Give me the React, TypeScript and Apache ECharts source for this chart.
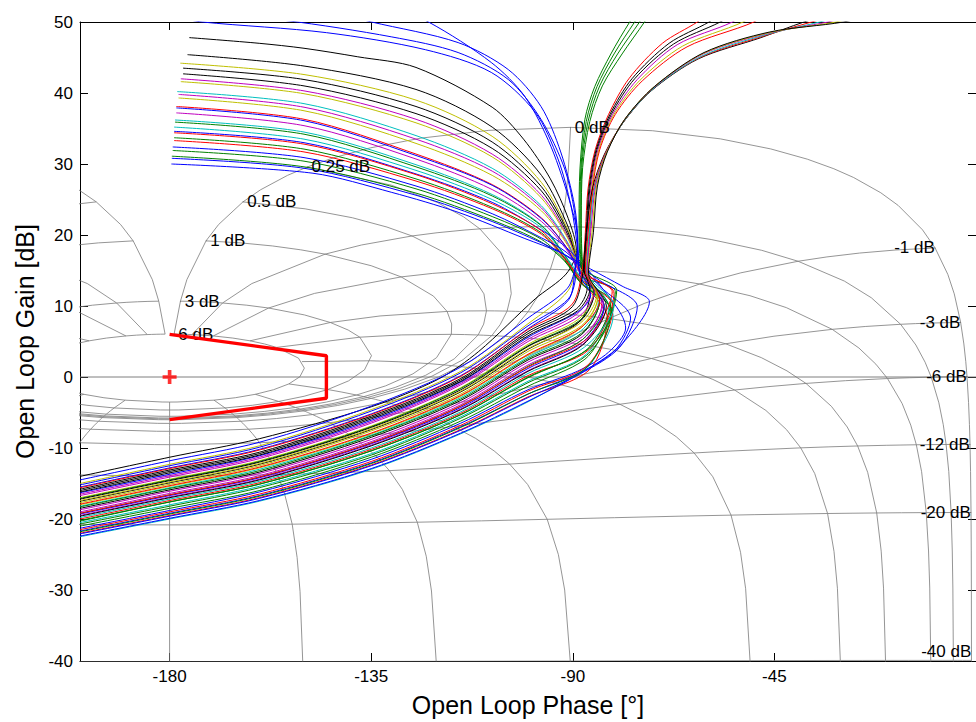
import React, { useEffect, useRef } from "react";
import * as echarts from "echarts";

// ---------- axis ticks ----------
const phaseTicks = [-180, -135, -90, -45];

// ---------- Nichols grid levels ----------
const isoGainDb = [6, 3, 1, 0.5, 0.25, 0, -1, -3, -6, -12, -20, -40];
const isoPhaseDeg = [-1, -5, -10, -20, -30, -50, -90, -120, -150, -180];
const closedPhaseSamples = [1, 2, 3, 4, 5, 7.5, 10, 15, 20, 25, 30, 45, 60, 75, 90, 105, 120, 135, 150, 175, 180];
const closedGainSamples = [6, 3, 2, 1, 0.75, 0.5, 0.4, 0.3, 0.25, 0.2, 0.15, 0.1, 0.05, 0, -0.05, -0.1, -0.15, -0.2, -0.25, -0.3, -0.4, -0.5, -0.75, -1, -1.5, -2, -3, -4, -5, -6, -8, -10, -12, -15, -20, -25, -30, -40, -50, -60, -80];
const unityGainLine = [[-200, 0], [0, 0]];

// ---------- stability boundary & critical point ----------
const boundaryPolygon = [[-180, 6], [-145, 3], [-145, -3], [-180, -6]];
const criticalPoint = [[-180, 0]];

// ---------- response colours ----------
const palette: Record<string, string> = {
  b: "#0000ff", g: "#008000", r: "#ff0000", c: "#00bfbf", m: "#bf00bf", y: "#bfbf00", k: "#000000",
};
const leftFamilyColors = ["k","k","y","k","k","m","y","c","m","y","r","b","m","c","g","c","b","r","g","r","b","g","g","b","b","b","b","b","b"];
const rightFamilyColors = ["g","g","g","g","r","k","k","m","y","r","k","r","c","m","y","k"];

// ---------- open-loop responses [phase deg, gain dB] ----------
const leftFamily: number[][][] = [
  [[-175.6,47.8],[-160,47.0],[-150,46.3],[-138,45.1],[-125,43.6],[-108,38.0],[-101,33.5],[-95,27.9],[-91,22.3],[-89.2,17.8],[-91.5,14.5],[-98.4,11.0],[-111,3.6],[-120,-0.3],[-135,-4.2],[-160,-8.7],[-180,-11.3],[-200,-14.0]],
  [[-176,45.4],[-150,43.8],[-125,40.5],[-108,35.2],[-97,28.4],[-91,21.1],[-89,16.8],[-86,12.5],[-88.5,7.8],[-100,3.9],[-115,-2.1],[-135,-7.4],[-160,-12.3],[-180,-14.9],[-200,-17.5]],
  [[-177.6,44.2],[-150,42.6],[-125,39.0],[-108,33.9],[-97,27.4],[-91,20.6],[-89.3,16.8],[-91,12.2],[-100,7.5],[-115,0.8],[-135,-4.6],[-160,-9.7],[-180,-12.3],[-200,-15.0]],
  [[-177,43.5],[-150,41.9],[-125,38.1],[-108,33.1],[-97,26.8],[-91,20.3],[-88.9,16.2],[-84,10.8],[-88,6.0],[-100,2.4],[-115,-3.3],[-135,-8.5],[-160,-13.4],[-180,-15.9],[-200,-18.5]],
  [[-177,42.7],[-150,41.0],[-125,37.1],[-108,32.2],[-97,26.2],[-91,19.9],[-89,16.0],[-86.8,12.5],[-89.2,9.6],[-100,6.1],[-115,-0.4],[-135,-5.7],[-160,-10.8],[-180,-13.3],[-200,-16.0]],
  [[-177.5,42.0],[-150,40.3],[-125,36.3],[-108,31.4],[-97,25.6],[-91,19.6],[-88.8,15.8],[-86,12.2],[-89,8.9],[-100,5.3],[-115,-0.9],[-135,-6.3],[-160,-11.3],[-180,-13.9],[-200,-16.5]],
  [[-177.5,41.6],[-150,39.9],[-125,35.8],[-108,31.0],[-97,25.2],[-91,19.4],[-88.6,15.5],[-84.5,11.0],[-88.4,6.8],[-100,3.1],[-115,-2.7],[-135,-8.0],[-160,-12.8],[-180,-15.4],[-200,-18.0]],
  [[-178.3,40.2],[-150,38.5],[-125,34.0],[-108,29.4],[-97,24.1],[-91,18.8],[-88.5,15.2],[-82,9.8],[-87,3.2],[-100,-0.6],[-115,-5.6],[-135,-10.8],[-160,-15.4],[-180,-18.0],[-200,-20.5]],
  [[-178,39.8],[-150,38.0],[-125,33.5],[-108,29.0],[-97,23.8],[-91,18.6],[-88.6,15.1],[-83.5,10.3],[-87.8,5.3],[-100,1.7],[-115,-3.9],[-135,-9.1],[-160,-13.9],[-180,-16.4],[-200,-19.0]],
  [[-178,39.3],[-150,37.5],[-125,32.9],[-108,28.4],[-97,23.4],[-91,18.4],[-88.7,15.0],[-85.5,11.8],[-88.6,8.2],[-100,4.6],[-115,-1.5],[-135,-6.9],[-160,-11.8],[-180,-14.4],[-200,-17.0]],
  [[-178.5,38.1],[-150,36.3],[-125,31.4],[-108,27.1],[-97,22.4],[-91,17.9],[-88.3,14.8],[-80.8,11.8],[-86.3,3.9],[-100,0.2],[-115,-5.1],[-135,-10.2],[-160,-14.9],[-180,-17.4],[-200,-20.0]],
  [[-178.5,37.9],[-150,36.1],[-125,31.2],[-108,27.0],[-97,22.3],[-91,17.8],[-89.3,14.9],[-91,11.0],[-100,7.2],[-115,0.6],[-135,-4.8],[-160,-9.9],[-180,-12.5],[-200,-15.2]],
  [[-178.5,37.2],[-150,35.4],[-125,30.7],[-108,26.4],[-97,21.9],[-91,17.6],[-88.4,14.7],[-83,9.8],[-87.8,4.6],[-100,0.9],[-115,-4.5],[-135,-9.6],[-160,-14.4],[-180,-16.9],[-200,-19.5]],
  [[-178.8,36.2],[-150,34.5],[-125,29.9],[-108,25.7],[-97,21.4],[-91.8,17.2],[-88.6,14.4],[-81,8.6],[-85.8,2.0],[-90,0.1],[-100,-3.5],[-115,-8.0],[-135,-13.0],[-160,-17.5],[-180,-20.0],[-200,-22.5]],
  [[-178.8,35.9],[-150,34.2],[-125,29.6],[-108,25.5],[-97,21.3],[-91.8,17.1],[-88.6,14.3],[-80.5,12.0],[-82.3,7.5],[-87.3,2.5],[-100,-1.3],[-115,-6.2],[-135,-11.3],[-160,-16.0],[-180,-18.5],[-200,-21.0]],
  [[-179,35.2],[-150,33.5],[-125,29.1],[-108,25.0],[-97,21.0],[-91.8,17.0],[-88.9,14.2],[-84.3,10.5],[-88.2,6.5],[-100,2.8],[-115,-2.9],[-135,-8.2],[-160,-13.0],[-180,-15.6],[-200,-18.2]],
  [[-179,34.6],[-150,33.0],[-125,28.6],[-108,24.6],[-97,20.7],[-91,18.0],[-84,13.0],[-78.2,6.9],[-82,3.5],[-89,0.8],[-100,-1.8],[-115,-6.5],[-135,-11.6],[-160,-16.2],[-180,-18.8],[-200,-21.3]],
  [[-179,34.4],[-150,32.8],[-125,28.5],[-108,24.4],[-97,20.6],[-91.8,16.8],[-88.5,14.0],[-81,9.9],[-86.6,1.7],[-100,-2.0],[-115,-6.8],[-135,-11.9],[-160,-16.5],[-180,-19.0],[-200,-21.5]],
  [[-179,33.7],[-150,32.1],[-125,27.9],[-108,23.9],[-97,20.3],[-91.8,16.7],[-88.8,13.8],[-81.5,10.6],[-86.8,3.9],[-100,0.0],[-115,-5.3],[-135,-10.4],[-160,-15.1],[-180,-17.6],[-200,-20.2]],
  [[-179,33.3],[-150,31.7],[-125,27.6],[-108,23.7],[-97,20.1],[-91.8,16.6],[-88.5,13.7],[-82.3,8.3],[-86.3,1.0],[-100,-2.8],[-115,-7.4],[-135,-12.4],[-160,-17.0],[-180,-19.5],[-200,-22.0]],
  [[-179.3,32.4],[-150,30.9],[-125,26.9],[-108,23.0],[-97,19.6],[-91.5,17.6],[-84,12.8],[-77.1,8.3],[-80.5,3.8],[-88.5,0.6],[-100,-2.4],[-115,-7.0],[-135,-12.1],[-160,-16.7],[-180,-19.2],[-200,-21.7]],
  [[-179.3,31.9],[-150,30.4],[-125,26.5],[-108,22.6],[-97,19.4],[-91.8,16.4],[-88.4,13.4],[-83,10.1],[-87.8,5.3],[-100,1.5],[-115,-4.1],[-135,-9.3],[-160,-14.1],[-180,-16.6],[-200,-19.2]],
  [[-179.5,31.1],[-150,29.6],[-125,25.9],[-108,22.1],[-97,19.0],[-91.8,16.3],[-88.2,13.2],[-81.3,9.3],[-87,3.0],[-100,-0.8],[-115,-5.8],[-135,-11.0],[-160,-15.6],[-180,-18.2],[-200,-20.7]],
  [[-179.5,30.8],[-150,29.4],[-125,25.6],[-108,21.9],[-97,18.9],[-92,17.3],[-84,13.6],[-75.6,9.9],[-79.5,4.2],[-88.5,0.4],[-100,-2.9],[-115,-7.5],[-135,-12.5],[-160,-17.1],[-180,-19.6],[-200,-22.1]],
  [[-179.6,30.0],[-148,28.7],[-130.4,26.0],[-115.6,23.2],[-100.7,19.5],[-93,17.6],[-86,15.2],[-79,12.8],[-72.9,10.6],[-79.3,4.5],[-88.9,0.3],[-100,-3.4],[-115,-7.9],[-135,-12.9],[-160,-17.4],[-180,-19.9],[-200,-22.4]],
  [[-178,56.0],[-150,54.5],[-130,51.8],[-122.2,50.0],[-108.2,44.3],[-100.7,39.5],[-94.9,32.5],[-90.4,24.1],[-88.9,19.5],[-89.3,16.0],[-91.2,12.5],[-100,8.3],[-115,1.4],[-135,-4.1],[-160,-9.2],[-180,-11.8],[-200,-14.5]],
  [[-178,53.5],[-150,52.3],[-134.9,50.0],[-115.6,47.1],[-104.4,43.3],[-97.1,38.1],[-92.7,31.7],[-89.6,24.1],[-88.9,18.5],[-89.5,15.0],[-91,10.8],[-100,6.8],[-115,0.2],[-135,-5.2],[-160,-10.2],[-180,-12.8],[-200,-15.5]],
  [[-178,51.5],[-154,50.2],[-130.4,47.9],[-115.6,45.7],[-104.4,41.9],[-97.1,36.3],[-91.8,29.3],[-89.6,23.2],[-88.8,18.0],[-88.5,14.5],[-86,11.5],[-88.8,9.2],[-100,5.6],[-115,-0.7],[-135,-6.1],[-160,-11.1],[-180,-13.7],[-200,-16.3]],
  [[-178,50.6],[-172.7,50.0],[-145,48.5],[-122.9,46.1],[-108.2,42.9],[-98.4,37.3],[-93.3,30.7],[-90.4,24.1],[-89,18.5],[-88.4,14.8],[-83,9.9],[-87.8,4.9],[-100,1.2],[-115,-4.3],[-135,-9.4],[-160,-14.2],[-180,-16.7],[-200,-19.3]],
];

const rightFamily: number[][][] = [
  [[-74,53],[-77.3,50],[-81.5,45.5],[-85.1,40.9],[-87.3,36.3],[-88.4,29.3],[-88.6,22],[-88.3,16],[-85.3,11.8],[-88.4,8.0],[-100,4.4],[-115,-1.6],[-135,-7.0],[-160,-11.9],[-180,-14.5],[-200,-17.1]],
  [[-73,53],[-76.2,50],[-80.8,45.5],[-84.6,40.9],[-87,36],[-88.2,29.3],[-88.4,22],[-88.1,15.8],[-84,10.7],[-88,6.2],[-100,2.6],[-115,-3.1],[-135,-8.3],[-160,-13.2],[-180,-15.7],[-200,-18.3]],
  [[-72,53],[-75.1,50],[-80,45.5],[-84,41],[-86.6,36],[-88,29.5],[-88.2,22.2],[-87.9,15.6],[-80.2,12.2],[-82.6,7.0],[-87.3,3.6],[-100,-0.1],[-115,-5.3],[-135,-10.4],[-160,-15.1],[-180,-17.6],[-200,-20.3]],
  [[-71,53],[-74,50],[-79,45.5],[-83.4,41],[-86.2,36],[-87.8,29.5],[-88.1,22.4],[-87.7,15.4],[-81.5,9.2],[-86.8,1.4],[-100,-2.4],[-115,-7.1],[-135,-12.2],[-160,-16.8],[-180,-19.3],[-200,-21.8]],
  [[-58,52],[-62.2,50],[-70,47],[-77.5,42],[-82,37],[-85,32],[-86.6,26.5],[-87.2,20.4],[-87.8,15.5],[-90.2,10.2],[-100,6.7],[-115,0.1],[-135,-5.3],[-160,-10.3],[-180,-12.9],[-200,-15.6]],
  [[-55,52],[-59.6,50],[-68.5,47],[-76.8,42],[-81.7,37],[-84.8,32],[-86.4,26.5],[-87,20.4],[-87.6,15.3],[-85.2,12.0],[-88.3,7.9],[-100,4.3],[-115,-1.8],[-135,-7.1],[-160,-12.0],[-180,-14.6],[-200,-17.2]],
  [[-52,52],[-57.1,50],[-67.5,46.9],[-76.2,42],[-81.4,37],[-84.6,32],[-86.2,26.5],[-86.8,20.4],[-87.4,15.1],[-86.2,12.4],[-89,9.3],[-100,5.8],[-115,-0.6],[-135,-5.9],[-160,-11.0],[-180,-13.5],[-200,-16.2]],
  [[-50,52],[-54.4,50],[-66.7,46.8],[-75.6,41.9],[-81.1,37],[-84.4,32],[-86,26.5],[-86.6,20.4],[-87.2,15],[-83.2,10.5],[-87.8,5.7],[-100,2.1],[-115,-3.6],[-135,-8.8],[-160,-13.6],[-180,-16.1],[-200,-18.7]],
  [[-47,52],[-52,50],[-65.5,46.6],[-75,41.8],[-80.8,37],[-84.2,32],[-85.8,26.5],[-86.4,20.4],[-87,14.9],[-84.4,11.3],[-88.1,7.2],[-100,3.6],[-115,-2.4],[-135,-7.6],[-160,-12.5],[-180,-15.1],[-200,-17.7]],
  [[-45,52],[-49.6,50],[-64.5,46.5],[-74.5,41.7],[-80.5,37],[-84,32],[-85.6,26.5],[-86.2,20.4],[-86.8,14.8],[-81.2,12.0],[-83.2,8.5],[-87.6,5.0],[-100,1.4],[-115,-4.1],[-135,-9.3],[-160,-14.1],[-180,-16.6],[-200,-19.2]],
  [[-30,51.5],[-38.4,50],[-48,47.8],[-62,44.8],[-72.5,40.3],[-78.8,35.8],[-83,31.3],[-85.6,26.6],[-87,20.3],[-87.6,15.2],[-90.1,9.9],[-100,6.4],[-115,-0.2],[-135,-5.5],[-160,-10.6],[-180,-13.1],[-200,-15.8]],
  [[-28,51.5],[-36.7,50],[-47.5,48],[-61.6,45],[-72.3,40.5],[-78.7,35.9],[-82.8,31.4],[-85.3,26.7],[-86.6,20.3],[-87.2,15],[-84,10.8],[-88.3,6.9],[-100,3.2],[-115,-2.6],[-135,-7.9],[-160,-12.7],[-180,-15.3],[-200,-17.9]],
  [[-26,51.5],[-34.9,50],[-47,48.2],[-61.2,45.2],[-72.1,40.6],[-78.6,36],[-82.6,31.5],[-85.1,26.8],[-86.3,20.4],[-86.9,14.9],[-80.8,10.1],[-87.4,4.2],[-100,0.5],[-115,-4.9],[-135,-10.0],[-160,-14.7],[-180,-17.2],[-200,-19.8]],
  [[-24,51.5],[-33.1,50],[-46.5,48.4],[-60.9,45.5],[-71.9,40.8],[-78.5,36.2],[-82.5,31.6],[-84.9,26.9],[-86,20.4],[-86.8,14.8],[-85.2,12.0],[-88.5,8.6],[-100,5.0],[-115,-1.1],[-135,-6.5],[-160,-11.5],[-180,-14.1],[-200,-16.7]],
  [[-22,51.5],[-31.3,50],[-46.2,48.5],[-60.8,45.6],[-71.8,40.9],[-78.4,36.3],[-82.4,31.7],[-84.7,26.9],[-85.7,20.4],[-86.6,14.7],[-84.7,11.5],[-88.3,7.6],[-100,4.0],[-115,-2.0],[-135,-7.3],[-160,-12.2],[-180,-14.8],[-200,-17.4]],
  [[-20,51.5],[-29.6,50],[-46,48.6],[-60.7,45.7],[-71.8,40.9],[-78.4,36.3],[-82.3,31.7],[-84.5,26.9],[-85.4,20.4],[-86.5,14.6],[-82.5,10.0],[-87.8,4.5],[-100,0.8],[-115,-4.6],[-135,-9.7],[-160,-14.5],[-180,-17.0],[-200,-19.6]],
];

const FONT = "'Liberation Sans', Arial, Helvetica, sans-serif";

// closed-loop (mag dB, phase deg) -> open-loop (phase deg, gain dB)
function openLoop(mDb: number, thetaDeg: number): [number, number] {
  const m = Math.pow(10, mDb / 20);
  const th = (thetaDeg * Math.PI) / 180;
  const re = 1 - m * Math.cos(th);
  const im = -m * Math.sin(th);
  const phase = thetaDeg - (Math.atan2(im, re) * 180) / Math.PI;
  const gain = 20 * Math.log10(m / Math.hypot(re, im));
  return [phase, gain];
}

function buildOption() {
  const thetas = closedPhaseSamples
    .map((p) => -p)
    .concat(closedPhaseSamples.slice(0, -1).reverse().map((p) => -360 + p));
  const allIsoPhases = isoPhaseDeg.concat(
    isoPhaseDeg.filter((p) => p !== -180).map((p) => -360 - p)
  );

  const gridStyle = {
    type: "line",
    showSymbol: false,
    symbol: "none",
    silent: true,
    z: 1,
    lineStyle: { color: "#7a7a7a", width: 0.8 },
  };

  const series: any[] = [];
  isoGainDb.forEach((M) => {
    series.push({ ...gridStyle, data: thetas.map((t) => openLoop(M, t)) });
  });
  allIsoPhases.forEach((t) => {
    series.push({ ...gridStyle, data: closedGainSamples.map((g) => openLoop(g, t)) });
  });
  series.push({ ...gridStyle, data: unityGainLine, lineStyle: { color: "#707070", width: 0.9 } });

  const addCurves = (curves: number[][][], colors: string[]) => {
    curves.forEach((c, i) => {
      series.push({
        type: "line",
        data: c,
        showSymbol: false,
        symbol: "none",
        silent: true,
        smooth: 0.3,
        z: 3,
        lineStyle: { color: palette[colors[i]], width: 1 },
      });
    });
  };
  addCurves(leftFamily, leftFamilyColors);
  addCurves(rightFamily, rightFamilyColors);

  // grid labels placed at the -1 deg closed-loop phase crossing
  const labelData = isoGainDb.map((M) => {
    const [p, g] = openLoop(M, -1);
    const neg = M < 0;
    return {
      value: [p, Math.max(g, -38.6)],
      label: {
        show: true,
        formatter: `${M} dB`,
        position: neg ? "left" : "right",
        distance: neg ? 0 : 4,
        color: "#000000",
        opacity: 1,
        textBorderWidth: 0,
        textShadowBlur: 0,
        fontSize: 17,
        fontFamily: FONT,
      },
    };
  });
  series.push({
    type: "scatter",
    data: labelData,
    symbolSize: 0.5,
    itemStyle: { color: "#000000", opacity: 1 },
    silent: true,
    z: 4,
  });

  series.push({
    type: "line",
    data: boundaryPolygon,
    showSymbol: false,
    symbol: "none",
    silent: true,
    z: 6,
    lineStyle: { color: "#ff0000", width: 3.4 },
  });
  series.push({
    type: "scatter",
    data: criticalPoint,
    symbol: "path://M3.7,0H6.3V3.7H10V6.3H6.3V10H3.7V6.3H0V3.7H3.7Z",
    symbolSize: 14,
    itemStyle: { color: "#ff0000" },
    silent: true,
    z: 7,
  });

  const axisLineStyle = { show: true, onZero: false, lineStyle: { color: "#000", width: 1 } };
  const tickStyle = { show: true, inside: true, length: 8, lineStyle: { color: "#000", width: 1 } };

  return {
    animation: false,
    backgroundColor: "#ffffff",
    grid: { left: 80, top: 22, right: -4, bottom: 57, containLabel: false },
    xAxis: [
      {
        type: "value",
        min: -200,
        max: 0,
        position: "bottom",
        axisLine: axisLineStyle,
        axisTick: { ...tickStyle, customValues: phaseTicks },
        axisLabel: { show: true, customValues: phaseTicks, color: "#000", fontSize: 17, fontFamily: FONT, margin: 7 },
        splitLine: { show: false },
        name: "Open Loop Phase [°]",
        nameLocation: "middle",
        nameGap: 31,
        nameTextStyle: { color: "#000", fontSize: 25, fontFamily: FONT },
      },
      {
        type: "value",
        min: -200,
        max: 0,
        position: "top",
        axisLine: axisLineStyle,
        axisTick: { ...tickStyle, customValues: phaseTicks },
        axisLabel: { show: false },
        splitLine: { show: false },
      },
    ],
    yAxis: [
      {
        type: "value",
        min: -40,
        max: 50,
        interval: 10,
        position: "left",
        axisLine: axisLineStyle,
        axisTick: tickStyle,
        axisLabel: { show: true, color: "#000", fontSize: 17, fontFamily: FONT, margin: 7 },
        splitLine: { show: false },
        name: "Open Loop Gain [dB]",
        nameLocation: "middle",
        nameGap: 43,
        nameTextStyle: { color: "#000", fontSize: 25, fontFamily: FONT },
      },
      {
        type: "value",
        min: -40,
        max: 50,
        interval: 10,
        position: "right",
        axisLine: axisLineStyle,
        axisTick: tickStyle,
        axisLabel: { show: false },
        splitLine: { show: false },
      },
    ],
    series,
  };
}

export default function App() {
  const ref = useRef<HTMLDivElement>(null);
  useEffect(() => {
    if (!ref.current) return;
    const chart = echarts.init(ref.current, undefined, { renderer: "svg" });
    chart.setOption(buildOption() as any);
    return () => chart.dispose();
  }, []);
  return (
    <div
      ref={ref}
      style={{ position: "fixed", left: 0, top: 0, width: 976, height: 722, background: "#fff" }}
    />
  );
}
